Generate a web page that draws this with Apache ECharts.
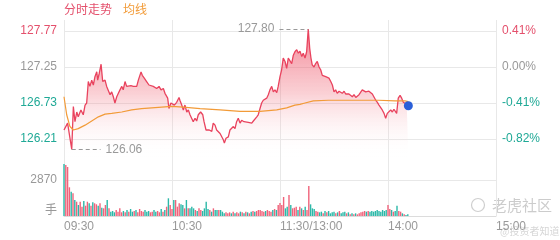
<!DOCTYPE html>
<html>
<head>
<meta charset="utf-8">
<script src="https://cdn.jsdelivr.net/npm/echarts@6/dist/echarts.min.js"></script>
<style>html,body{margin:0;padding:0;background:#fff}#c{width:560px;height:240px}</style>
</head>
<body>
<div id="c"></div>
<script>
// ---- data ----
const timeLabels = ['09:30', '10:30', '11:30/13:00', '14:00', '15:00'];
const priceTickLabels = ['126.21', '126.73', '127.25', '127.77'];
const pctTickLabels = ['-0.82%', '-0.41%', '0.00%', '0.41%'];
const volTickLabels = ['手', '2870', ''];
const volTicks = [0, 2870, 5740];

// minute index from 09:30 (lunch break removed)
const priceTimes = [0, 2, 4.3, 5.2, 6.1, 7.1, 7.9, 9.4, 10.7, 11.7, 12.6, 13.5, 14.4, 15.4, 16.3, 17.2, 18.2, 18.7, 19.6, 20.6,
  21.5, 22.8, 23.7, 24.6, 25.6, 26.5, 27.4, 28.3, 29.3, 30.2, 31.1, 32.1, 32.9, 33.9, 34.8, 35.7, 37.2, 38.5, 39.4, 40.4,
  41.3, 42.8, 43.5, 44.6, 45.9, 47.2, 48.3, 49.6, 50.6, 51.5, 52.8, 53.9, 55.2, 56.1, 57.6, 58.3, 59.4, 60.2, 61.3, 62.6,
  63.9, 64.4, 65.4, 66.3, 67.2, 68.2, 69.1, 70, 70.9, 71.8, 72.8, 73.7, 74.6, 75.9, 77.1, 77.8, 78.9, 79.6, 80.7, 82.1,
  82.9, 83.9, 84.8, 85.7, 86.7, 87.6, 88.5, 89.1, 90, 91.3, 92.2, 93.2, 94.1, 95, 95.9, 96.8, 97.8, 98.7, 100, 101.1,
  102.4, 103.3, 104.3, 105.2, 106.1, 107.1, 107.9, 108.9, 109.8, 110.7, 111.7, 112.6, 113.5, 114.4, 115.4, 116.3, 117.2, 118.2, 119, 120,
  120.9, 121.8, 122.8, 123.7, 124.6, 125.6, 126.5, 127.4, 128.3, 129.3, 130.2, 131.1, 132.1, 132.9, 133.9, 134.8, 135.7, 136.5, 137.2, 137.9,
  138.9, 139.8, 140.7, 141.7, 142.6, 143.5, 144.4, 145.4, 146.3, 147.2, 148.2, 149.1, 150, 150.9, 151.8, 152.8, 153.7, 154.6, 155.6, 156.5,
  157.4, 158.3, 159.3, 160.2, 161.1, 162.1, 162.9, 163.9, 164.8, 165.7, 166.7, 167.6, 168.5, 169.4, 170.4, 171.3, 172.2, 173.2, 174.1, 175,
  175.9, 176.8, 177.8, 178.7, 179.6, 180.6, 181.5, 182.4, 183.3, 184.3, 184.8, 185.7, 186.7, 187.6, 188.5, 189.4, 190.4, 191.3];
const prices = [126.34, 126.44, 126.06, 126.68, 126.46, 126.60, 126.53, 126.63, 126.56, 126.70, 126.73, 127.04, 126.97, 127.06, 126.99, 127.11, 127.18, 127.06, 127.16, 127.29,
  127.04, 127.06, 126.97, 126.99, 126.85, 126.89, 126.82, 126.73, 126.82, 126.87, 126.92, 126.97, 126.92, 127.04, 126.97, 126.99, 126.98, 126.97, 126.99, 126.97,
  127.06, 127.18, 127.13, 127.09, 127.04, 126.99, 127.01, 126.97, 126.99, 126.94, 126.97, 126.92, 126.94, 126.87, 126.80, 126.65, 126.73, 126.75, 126.70, 126.74,
  126.81, 126.77, 126.70, 126.63, 126.70, 126.60, 126.63, 126.56, 126.51, 126.46, 126.51, 126.47, 126.56, 126.60, 126.56, 126.46, 126.34, 126.32, 126.34, 126.32,
  126.44, 126.41, 126.34, 126.36, 126.29, 126.27, 126.20, 126.15, 126.22, 126.24, 126.34, 126.32, 126.39, 126.36, 126.46, 126.51, 126.44, 126.48, 126.46, 126.47,
  126.45, 126.46, 126.44, 126.47, 126.45, 126.53, 126.56, 126.65, 126.73, 126.77, 126.75, 126.80, 126.85, 126.92, 126.97, 126.89, 126.92, 126.88, 126.97, 127.11,
  127.21, 127.38, 127.33, 127.23, 127.38, 127.40, 127.30, 127.42, 127.47, 127.50, 127.45, 127.48, 127.40, 127.45, 127.38, 127.47, 127.80, 127.52, 127.38, 127.28,
  127.25, 127.30, 127.33, 127.25, 127.21, 127.13, 127.14, 127.11, 127.12, 127.09, 127.04, 126.99, 126.89, 126.92, 126.87, 126.90, 126.88, 126.87, 126.90, 126.86,
  126.88, 126.86, 126.88, 126.82, 126.85, 126.81, 126.82, 126.85, 126.87, 126.92, 126.93, 126.89, 126.88, 126.90, 126.88, 126.86, 126.85, 126.77, 126.74, 126.70,
  126.68, 126.63, 126.58, 126.51, 126.58, 126.60, 126.63, 126.60, 126.64, 126.63, 126.58, 126.80, 126.84, 126.80, 126.74, 126.76, 126.71, 126.69];

const avgTimes = [0, 1.5, 3.3, 5.2, 7.9, 11.7, 15.4, 19.1, 22.8, 26.5, 32.1, 37.6, 43.1, 48.7, 54.3, 59.8, 66.3, 75.6, 86.7, 97.8,
  108.9, 118.2, 123.7, 128.3, 131.1, 133.9, 138.5, 146.8, 156.1, 165.4, 174.6, 183.9, 189.4, 191.3];
const avgPrices = [126.82, 126.56, 126.39, 126.34, 126.36, 126.41, 126.47, 126.53, 126.57, 126.58, 126.60, 126.63, 126.65, 126.66, 126.67, 126.68, 126.67, 126.65, 126.63, 126.61,
  126.61, 126.63, 126.66, 126.70, 126.71, 126.73, 126.76, 126.77, 126.77, 126.77, 126.77, 126.76, 126.76, 126.75];

// volume per minute (手), minute 0..191
const volumes = [4145, 4066, 3906, 2288, 1937, 1810, 1275, 1140, 877, 1140,
  741, 1196, 821, 1140, 1012, 821, 1092, 1012, 933, 821,
  1012, 661, 614, 877, 1275, 614, 343, 399, 295, 478,
  343, 614, 295, 399, 295, 478, 343, 558, 343, 399,
  478, 295, 558, 399, 343, 478, 343, 399, 295, 343,
  478, 343, 399, 295, 558, 343, 478, 741, 1411, 877,
  558, 1275, 1275, 744, 1010, 930, 877, 610, 1275, 611,
  611, 744, 611, 478, 399, 611, 478, 399, 611, 1143,
  558, 478, 345, 611, 478, 478, 478, 478, 345, 213,
  292, 213, 292, 213, 345, 213, 292, 213, 345, 292,
  213, 345, 292, 213, 345, 399, 345, 399, 478, 478,
  399, 345, 399, 478, 399, 345, 478, 558, 478, 877,
  1036, 877, 1515, 611, 744, 1674, 877, 614, 661, 744,
  478, 744, 611, 478, 744, 478, 2392, 930, 611, 558,
  399, 345, 292, 345, 213, 399, 292, 399, 213, 292,
  345, 213, 292, 399, 213, 292, 345, 213, 292, 133,
  213, 133, 213, 133, 213, 292, 345, 399, 345, 399,
  345, 399, 345, 399, 478, 399, 345, 478, 399, 478,
  877, 558, 478, 345, 399, 821, 399, 345, 213, 133,
  80, 133];
const prevClose = 127.25;

// ---- chart ----
const FONT = "'Liberation Sans', Arial, 'Noto Sans CJK SC', sans-serif";
const RED = '#e9435e', TEAL = '#1fa996', GRAY = '#999', GRID = '#e8e8e8';
const UPBAR = '#f0637b', DOWNBAR = '#2cb8a8';

function priceAt(m) {
  let p = prevClose;
  for (let i = 0; i < priceTimes.length; i++) if (priceTimes[i] <= m + 0.5) p = prices[i];
  return p;
}
const volData = volumes.map((v, i) => {
  const up = priceAt(i) >= (i === 0 ? prevClose : priceAt(i - 1));
  return { value: [i, v], itemStyle: { color: up ? UPBAR : DOWNBAR } };
});
const priceData = priceTimes.map((t, i) => [t, prices[i]]);
const avgData = avgTimes.map((t, i) => [t, avgPrices[i]]);

let hi = 0, lo = 0;
prices.forEach((p, i) => { if (p > prices[hi]) hi = i; if (p < prices[lo]) lo = i; });
const last = prices.length - 1;
const DASH_SPAN = 16;

const labelColor = (v) => { const n = Math.round(Number(v)); return n === 2 ? GRAY : (n > 2 ? '#e4506c' : TEAL); };

const chart = echarts.init(document.getElementById('c'), null, { renderer: 'canvas' });
chart.setOption({
  animation: false,
  textStyle: { fontFamily: FONT },
  title: {
    left: 64, top: 5, padding: 0,
    text: '{a|分时走势}{b|均线}',
    textStyle: {
      rich: {
        a: { color: '#e4506c', fontSize: 12, fontFamily: FONT, fontWeight: 'normal', padding: [0, 11, 0, 0] },
        b: { color: '#f29b38', fontSize: 12, fontFamily: FONT, fontWeight: 'normal' }
      }
    }
  },
  grid: [
    { left: 64, right: 64, top: 20, height: 137 },
    { left: 64, right: 64, top: 31, height: 108 },
    { left: 64, right: 64, top: 144, height: 72 }
  ],
  xAxis: [
    { gridIndex: 0, type: 'value', min: 0, max: 240, interval: 60,
      axisLine: { show: false }, axisTick: { show: false }, axisLabel: { show: false },
      splitLine: { show: true, lineStyle: { color: GRID } } },
    { gridIndex: 1, type: 'value', min: 0, max: 240, show: false },
    { gridIndex: 2, type: 'value', min: 0, max: 240, interval: 60,
      axisLine: { show: true, lineStyle: { color: '#dcdcdc' } }, axisTick: { show: false },
      axisLabel: { formatter: (v) => timeLabels[Math.round(v / 60)], align: 'left', color: GRAY, fontSize: 12, margin: 5, fontFamily: FONT },
      splitLine: { show: true, lineStyle: { color: GRID } } }
  ],
  yAxis: [
    { gridIndex: 0, type: 'value', min: 125.95, max: 127.929, show: false },
    { gridIndex: 1, type: 'value', min: 0, max: 3, interval: 1,
      axisLine: { show: false }, axisTick: { show: false },
      axisLabel: { formatter: (v) => priceTickLabels[Math.round(v)], color: labelColor, fontSize: 12, margin: 7, fontFamily: FONT },
      splitLine: { show: true, lineStyle: { color: GRID } } },
    { gridIndex: 1, type: 'value', position: 'right', min: 0, max: 3, interval: 1,
      axisLine: { show: false }, axisTick: { show: false },
      axisLabel: { formatter: (v) => pctTickLabels[Math.round(v)], color: labelColor, fontSize: 12, margin: 6, fontFamily: FONT },
      splitLine: { show: false } },
    { gridIndex: 2, type: 'value', min: volTicks[0], max: volTicks[2], interval: volTicks[1],
      axisLine: { show: false }, axisTick: { show: false },
      axisLabel: {
        formatter: (v) => { const i = volTicks.indexOf(Number(v)); if (i === 0) return '{s|' + volTickLabels[0] + '}'; return i > 0 ? volTickLabels[i] : ''; },
        color: GRAY, fontSize: 12, margin: 7, fontFamily: FONT,
        rich: { s: { color: GRAY, fontSize: 12, fontFamily: FONT, padding: [0, 0, 10, 0] } }
      },
      splitLine: { show: true, showMaxLine: false, lineStyle: { color: GRID } } }
  ],
  series: [
    { type: 'line', name: '分时走势', xAxisIndex: 0, yAxisIndex: 0, data: priceData,
      showSymbol: false, symbol: 'none', lineStyle: { color: RED, width: 1.3 },
      areaStyle: { origin: 'start', color: new echarts.graphic.LinearGradient(0, 0, 0, 1, [
        { offset: 0, color: 'rgba(236,62,88,0.9)' },
        { offset: 0.5, color: 'rgba(240,105,120,0.45)' },
        { offset: 1, color: 'rgba(255,255,255,0)' }]) },
      markLine: {
        silent: true, symbol: ['none', 'none'],
        lineStyle: { color: GRAY, type: [4, 3], width: 1 },
        label: { color: GRAY, fontSize: 12, fontFamily: FONT },
        data: [
          [{ coord: [priceTimes[hi] - DASH_SPAN, prices[hi]], label: { position: 'start', formatter: prices[hi].toFixed(2) } },
           { coord: [priceTimes[hi], prices[hi]] }],
          [{ coord: [priceTimes[lo], prices[lo]], label: { position: 'end', formatter: prices[lo].toFixed(2) } },
           { coord: [priceTimes[lo] + DASH_SPAN, prices[lo]] }]
        ]
      },
      markPoint: {
        silent: true, symbol: 'circle', symbolSize: 9,
        itemStyle: { color: '#2a5fd8' }, label: { show: false },
        data: [{ coord: [priceTimes[last], prices[last]] }]
      }
    },
    { type: 'line', name: '均线', xAxisIndex: 0, yAxisIndex: 0, data: avgData,
      showSymbol: false, symbol: 'none', lineStyle: { color: '#f29b38', width: 1.2 } },
    { type: 'bar', name: '成交量', xAxisIndex: 2, yAxisIndex: 3, data: volData, barWidth: 1.4 }
  ],
  graphic: [
    { type: 'circle', shape: { cx: 478, cy: 205, r: 6.5 }, style: { fill: 'none', stroke: '#cfcfcf', lineWidth: 1.2 }, silent: true },
    { type: 'text', x: 492, y: 205, style: { text: '老虎社区', fill: '#cccccc', font: "15px 'Noto Sans CJK SC'", textVerticalAlign: 'middle' }, silent: true },
    { type: 'text', x: 500, y: 231, style: { text: '@投资者知道', fill: '#d6d6d6', font: "10px 'Noto Sans CJK SC'", textVerticalAlign: 'middle' }, silent: true }
  ]
});
</script>
</body>
</html>
